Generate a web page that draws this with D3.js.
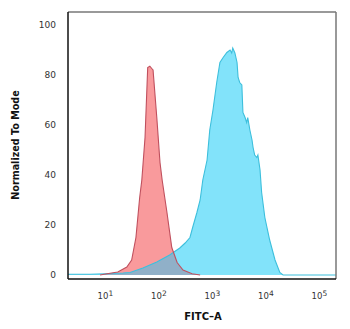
<!DOCTYPE html>
<html><head><meta charset="utf-8">
<script src="https://cdn.jsdelivr.net/npm/d3@7"></script>
<style>body{margin:0;background:#fff}</style>
</head><body>
<svg id="c" width="350" height="329"></svg>
<script>
// log10 of FITC-A intensity, and % of mode
const isoLog = [0.91,1.04,1.24,1.41,1.50,1.58,1.65,1.69,1.75,1.80,1.84,1.88,1.90,1.97,2.03,2.07,2.16,2.25,2.35,2.46,2.63,2.78];
const isoVal = [0,0.5,1.2,3.2,6,15,31,38,55,83,83.5,82.5,82,63,45,38,25,11,5,2,0.5,0];
const posLog = [0.31,0.72,1.0,1.34,1.47,1.71,1.97,2.21,2.40,2.50,2.59,2.64,2.72,2.78,2.83,2.91,2.96,3.02,3.09,3.15,3.21,3.28,3.34,3.37,3.39,3.43,3.47,3.49,3.52,3.56,3.58,3.62,3.65,3.67,3.71,3.75,3.77,3.80,3.84,3.86,3.90,3.93,3.99,4.08,4.18,4.27,4.33,5.32];
const posVal = [0.3,0.3,0.5,0.8,1.0,2.8,5.2,8,10.8,12.8,15,19,25,30,38,46,58,66,77,85,87,89,90,88.8,90.8,88.8,85,79,77,76,65,63,61,63,58,54,51,48,47,48,42,33,23,14,6,1,0,0];
const xTicks = [1e1,1e2,1e3,1e4,1e5];
const yTicks = [0,20,40,60,80,100];

const svg = d3.select("#c");
const L=68,T=12,R=336,B=279;
const x = d3.scaleLog().domain([Math.pow(10,0.31),Math.pow(10,5.32)]).range([L,R]);
const y = d3.scaleLinear().domain([0,100]).range([275,25]);

const iso = isoLog.map((d,i)=>({x:Math.pow(10,d),y:isoVal[i]}));
const pos = posLog.map((d,i)=>({x:Math.pow(10,d),y:posVal[i]}));
const area = d3.area().x(d=>x(d.x)).y0(y(0)).y1(d=>y(d.y));
const line = d3.line().x(d=>x(d.x)).y(d=>y(d.y));

svg.append("defs").append("clipPath").attr("id","isoClip")
  .append("path").attr("d",area(iso));

svg.append("path").attr("d",area(iso)).attr("fill","#f99a9c");
svg.append("path").attr("d",area(pos)).attr("fill","#82e3fa");
svg.append("path").attr("d",area(pos)).attr("fill","#90b0c8").attr("clip-path","url(#isoClip)");
svg.append("path").attr("d",line(pos)).attr("fill","none").attr("stroke","#3dbfdc").attr("stroke-width",1.1);
svg.append("path").attr("d",line(iso)).attr("fill","none").attr("stroke","#c0505e").attr("stroke-width",1.1);

// frame
svg.append("line").attr("x1",L).attr("x2",R).attr("y1",T).attr("y2",T).attr("stroke","#777").attr("stroke-width",1.5);
svg.append("line").attr("x1",R).attr("x2",R).attr("y1",T).attr("y2",B).attr("stroke","#777").attr("stroke-width",1.5);
svg.append("line").attr("x1",L).attr("x2",L).attr("y1",T).attr("y2",B).attr("stroke","#111").attr("stroke-width",1.5);
svg.append("line").attr("x1",L).attr("x2",R).attr("y1",B).attr("y2",B).attr("stroke","#111").attr("stroke-width",1.5);

// y axis
const ya = svg.append("g").attr("transform",`translate(56,0)`)
  .call(d3.axisLeft(y).tickValues(yTicks).tickSize(0).tickPadding(0));
ya.select(".domain").remove();
ya.selectAll("text").attr("font-family","DejaVu Sans").attr("font-size","9px").attr("fill","#333");

// x axis
const xa = svg.append("g").attr("transform",`translate(0,293)`)
  .call(d3.axisBottom(x).tickValues(xTicks).tickSize(0).tickPadding(0).tickFormat(()=>""));
xa.select(".domain").remove();
xa.selectAll(".tick text").each(function(d){
  const t=d3.select(this).attr("font-family","DejaVu Sans").attr("font-size","8.5px").attr("fill","#333").attr("dy","0.75em");
  t.text(null);
  t.append("tspan").text("10");
  t.append("tspan").attr("dy","-0.5em").attr("font-size","7.5px").text(Math.round(Math.log10(d)));
});

svg.append("text").attr("x",203).attr("y",320).attr("text-anchor","middle")
  .attr("font-family","DejaVu Sans").attr("font-weight","bold").attr("font-size","10px").attr("fill","#111").text("FITC\u2013A");
svg.append("text").attr("transform","translate(19,145) rotate(-90)").attr("text-anchor","middle")
  .attr("font-family","DejaVu Sans").attr("font-weight","bold").attr("font-size","9.6px").attr("fill","#111").text("Normalized To Mode");
</script>
</body></html>
